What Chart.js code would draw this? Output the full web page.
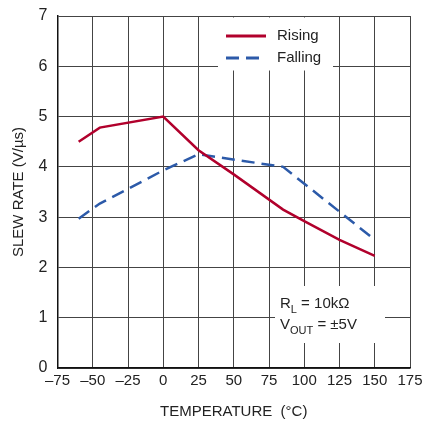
<!DOCTYPE html>
<html>
<head>
<meta charset="utf-8">
<script src="https://cdn.jsdelivr.net/npm/chart.js@4/dist/chart.umd.min.js"></script>
<style>
  body { margin: 0; background: #fff; }
  #wrap { width: 423px; height: 421px; }
</style>
</head>
<body>
<div id="wrap"><canvas id="mycanvas"></canvas></div>
<script>
// data
var risingTemp = [-60, -45, 0, 25, 50, 85, 100, 125, 150];
var risingRate = [4.5, 4.78, 5.0, 4.33, 3.85, 3.15, 2.92, 2.55, 2.23];
var fallingTemp = [-60, -45, 0, 25, 85, 150];
var fallingRate = [2.97, 3.27, 3.93, 4.25, 4.0, 2.55];
var xTicks = [-75, -50, -25, 0, 25, 50, 75, 100, 125, 150, 175];
var yTicks = [0, 1, 2, 3, 4, 5, 6, 7];

var FONT = "'Liberation Sans', Arial, sans-serif";
var RED = '#b1002c';
var BLUE = '#2c5aa9';

function pts(xs, ys) {
  var out = [];
  for (var i = 0; i < xs.length; i++) out.push({ x: xs[i], y: ys[i] });
  return out;
}

// white legend + condition boxes drawn inside the plot
var boxes = {
  id: 'boxes',
  beforeDatasetsDraw: function(chart) {
    var ctx = chart.ctx;
    var a = chart.chartArea;
    ctx.save();
    ctx.fillStyle = '#fff';
    ctx.fillRect(218, a.top + 1.5, 115, 53);
    ctx.fillRect(275, 286, 110, 57);

    ctx.font = '15px ' + FONT;
    ctx.textBaseline = 'middle';
    ctx.fillStyle = '#222';
    var ds = chart.data.datasets;
    var ys = [36, 58];
    for (var i = 0; i < ds.length; i++) {
      ctx.beginPath();
      ctx.strokeStyle = ds[i].borderColor;
      ctx.lineWidth = 3;
      ctx.setLineDash(ds[i].borderDash || []);
      ctx.moveTo(226, ys[i]);
      ctx.lineTo(266, ys[i]);
      ctx.stroke();
      ctx.setLineDash([]);
      ctx.fillText(ds[i].label, 277, ys[i]);
    }

    // R_L = 10kΩ / V_OUT = ±5V
    ctx.font = '15px ' + FONT;
    var x = 280;
    ctx.fillText('R', x, 304);
    x += ctx.measureText('R').width;
    ctx.font = '11px ' + FONT;
    ctx.fillText('L', x, 310);
    x += ctx.measureText('L').width;
    ctx.font = '15px ' + FONT;
    ctx.fillText(' = 10k\u03A9', x, 304);

    x = 280;
    ctx.fillText('V', x, 325);
    x += ctx.measureText('V').width;
    ctx.font = '11px ' + FONT;
    ctx.fillText('OUT', x, 331);
    x += ctx.measureText('OUT').width;
    ctx.font = '15px ' + FONT;
    ctx.fillText(' = \u00B15V', x, 325);
    ctx.restore();
  }
};

var ctx = document.getElementById('mycanvas');
var chart = new Chart(ctx, {
  type: 'line',
  data: {
    datasets: [
      {
        label: 'Rising',
        data: pts(risingTemp, risingRate),
        borderColor: RED,
        borderWidth: 2.5,
        pointRadius: 0,
        fill: false,
        tension: 0
      },
      {
        label: 'Falling',
        data: pts(fallingTemp, fallingRate),
        borderColor: BLUE,
        borderWidth: 2.5,
        borderDash: [13, 7],
        pointRadius: 0,
        fill: false,
        tension: 0
      }
    ]
  },
  options: {
    responsive: true,
    maintainAspectRatio: false,
    animation: false,
    layout: { padding: { top: 16, right: 13, left: 10, bottom: 0 } },
    plugins: { legend: { display: false }, tooltip: { enabled: false } },
    scales: {
      x: {
        type: 'linear',
        min: -75, max: 175,
        afterBuildTicks: function(s) { s.ticks = xTicks.map(function(v) { return { value: v }; }); },
        ticks: {
          color: '#222',
          font: { family: FONT, size: 15 },
          padding: 4,
          maxRotation: 0,
          autoSkip: false,
          callback: function(v) { return String(v).replace('-', '\u2013'); }
        },
        grid: { color: '#444', lineWidth: 1, drawTicks: false },
        border: { color: '#111', width: 1.5 },
        title: {
          display: true,
          text: 'TEMPERATURE  (\u00B0C)',
          color: '#222',
          font: { family: FONT, size: 15 },
          padding: { top: 3, bottom: 0 }
        },
        afterFit: function(s) { s.height = 53; s.paddingLeft = 0; s.paddingRight = 0; }
      },
      y: {
        min: 0, max: 7,
        afterBuildTicks: function(s) { s.ticks = yTicks.map(function(v) { return { value: v }; }); },
        ticks: {
          color: '#222',
          font: { family: FONT, size: 16 },
          padding: 10
        },
        grid: { color: '#444', lineWidth: 1, drawTicks: false },
        border: { color: '#111', width: 1.5 },
        title: {
          display: true,
          text: 'SLEW RATE (V/\u00B5s)',
          color: '#222',
          font: { family: FONT, size: 15 },
          padding: { top: 0, bottom: 4 }
        },
        afterFit: function(s) { s.width = 47.5; s.paddingTop = 0; s.paddingBottom = 0; }
      }
    }
  },
  plugins: [boxes]
});
</script>
</body>
</html>
